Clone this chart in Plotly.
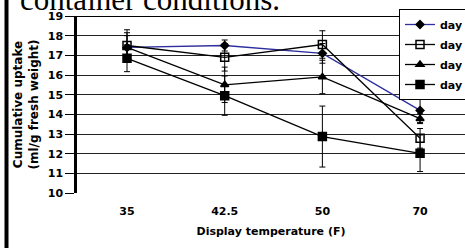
import plotly.graph_objects as go

temps = ["35", "42.5", "50", "70"]
series_names = ["day 2", "day 4", "day 6", "day 8"]
day2 = [17.4, 17.5, 17.1, 14.2]
day4 = [17.5, 16.9, 17.55, 12.78]
day6 = [17.4, 15.5, 15.9, 13.78]
day8 = [16.85, 14.95, 12.87, 12.02]
err2 = [0.75, 0.28, 0.5, 0.62]
err4 = [0.8, 0.7, 0.7, 0.5]
err6 = [0.6, 0.9, 0.85, 0.25]
err8 = [0.68, 1.0, 1.55, 0.93]
y_ticks = [10, 11, 12, 13, 14, 15, 16, 17, 18, 19]

W, H = 465, 248
L, T, B = 77, 16, 55
PH = H - T - B
PW = W - L

font = dict(family="DejaVu Sans, sans-serif", size=11, color="black", weight="bold")

styles = [
    dict(color="#2e2e9e", symbol="diamond", size=6),
    dict(color="black", symbol="square-open", size=8),
    dict(color="black", symbol="triangle-up", size=7),
    dict(color="black", symbol="square", size=8),
]

fig = go.Figure()
for name, vals, errs, st in zip(series_names, [day2, day4, day6, day8],
                                [err2, err4, err6, err8], styles):
    fig.add_trace(go.Scatter(
        x=temps, y=vals, name=name, mode="lines+markers", legendgroup=name,
        line=dict(color=st["color"], width=1.3),
        marker=dict(symbol=st["symbol"], size=st["size"], color="black",
                    line=dict(color="black", width=1.5)),
        error_y=dict(type="data", array=errs, visible=True, color="black",
                     thickness=1, width=3),
    ))

fig.update_layout(
    width=W, height=H,
    margin=dict(l=L, r=0, t=T, b=B, autoexpand=False),
    paper_bgcolor="white", plot_bgcolor="white",
    showlegend=True,
    font=font,
    legend=dict(x=(399 - L) / PW, y=1 + 7 / PH, xanchor="left", yanchor="top",
                bgcolor="white", bordercolor="black", borderwidth=1,
                font=font, itemwidth=30, tracegroupgap=1),
    xaxis=dict(type="category", range=[-0.512, 3.46], showgrid=False,
               showline=False, ticks="", tickfont=font, ticklabelstandoff=10,
               title=dict(text="Display temperature (F)", font=font, standoff=10),
               zeroline=False, automargin=False),
    yaxis=dict(range=[10, 19], tickvals=y_ticks, showgrid=True,
               gridcolor="#222", gridwidth=1.3, showline=True,
               linecolor="black", linewidth=2.5, ticks="outside",
               ticklen=9, tickwidth=1.3, tickcolor="black", tickfont=font,
               title=dict(text="Cumulative uptake<br>(ml/g fresh weight)",
                          font=dict(family="DejaVu Sans, sans-serif", size=12,
                                    color="black", weight="bold"),
                          standoff=7),
               zeroline=False, automargin=False),
)

# top frame line at 19
fig.add_shape(type="line", xref="paper", yref="y", x0=0, x1=1, y0=19, y1=19,
              line=dict(color="black", width=2))
# outer left border of the figure panel
fig.add_annotation(text="", xref="paper", yref="paper",
                   x=-(L - 6.5) / PW, y=0.5 - (B - T) / 2 / PH, xanchor="center", yanchor="middle",
                   width=1, height=H + 10, bgcolor="black", borderpad=1, showarrow=False)

fig.add_annotation(text="container conditions.", xref="paper", yref="paper",
                   x=-(L - 18) / PW, y=1 - 3 / PH, xanchor="left", yanchor="bottom",
                   showarrow=False,
                   font=dict(family="Liberation Serif, Times New Roman, serif", size=31,
                             color="black", weight="normal"))

fig.write_html("out.html", config={"displayModeBar": False},
               post_script="document.body.style.margin='0';document.body.style.overflow='hidden';")
